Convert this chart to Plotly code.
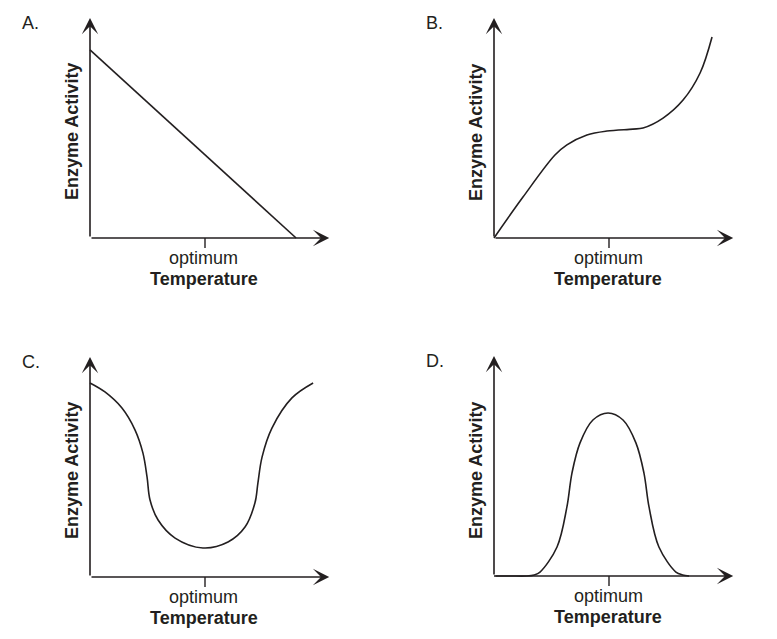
import plotly.graph_objects as go

W, H = 777, 639
INK = "#231f20"
FONT = "Liberation Sans, Arial, sans-serif"

# curve points (x: temperature units, optimum at 5; y: activity units)
a_x = [0.0, 8.96]
a_y = [8.55, 0.0]

b_x = [0.0, 1.26, 2.65, 3.17, 4.04, 4.91, 6.04, 6.48, 7.35, 8.22, 8.96, 9.48]
b_y = [0.0, 1.86, 3.77, 4.23, 4.68, 4.86, 4.95, 5.0, 5.45, 6.27, 7.5, 9.14]

c_x = [0.0, 0.65, 1.39, 1.96, 2.3, 2.48, 2.61, 2.96, 3.7, 4.91, 6.0, 6.74, 7.17, 7.3, 7.48, 7.91, 8.78, 9.7]
c_y = [8.82, 8.41, 7.68, 6.68, 5.64, 4.55, 3.5, 2.59, 1.77, 1.32, 1.59, 2.27, 3.36, 4.27, 5.45, 6.77, 8.14, 8.82]

d_x = [0.0, 0.7, 1.43, 1.75, 2.0, 2.74, 3.17, 3.39, 3.74, 4.3, 4.96, 5.61, 6.17, 6.52, 6.74, 7.17, 7.91, 8.2, 8.48]
d_y = [0.0, 0.0, 0.0, 0.05, 0.18, 1.32, 3.14, 4.68, 6.05, 7.09, 7.41, 7.09, 6.05, 4.68, 3.14, 1.32, 0.18, 0.05, 0.0]

letters = ["A.", "B.", "C.", "D."]
optimum = 5.0
x_end, y_end = 10.4, 10.0

curves = [(a_x, a_y, "linear"), (b_x, b_y, "spline"), (c_x, c_y, "spline"), (d_x, d_y, "spline")]

# pixel origin of each panel and pixel size of one unit
origins = [(90, 238), (494, 238), (90, 577), (494, 576)]
UX, UY = 23.0, 22.0
XR = [-0.8, 10.6]
YR = [-0.8, 10.2]

fig = go.Figure()
layout = {}
annotations = []
shapes = []


def px(x):
    return x / W


def py(y):
    return 1 - y / H


for i, ((cx, cy, shape), (ox, oy)) in enumerate(zip(curves, origins)):
    n = "" if i == 0 else str(i + 1)
    xa, ya = "x" + n, "y" + n
    fig.add_trace(go.Scatter(x=cx, y=cy, mode="lines", xaxis=xa, yaxis=ya,
                             line=dict(color=INK, width=1.6, shape=shape, smoothing=1.0),
                             showlegend=False, hoverinfo="skip"))
    xdom = [px(ox + XR[0] * UX), px(ox + XR[1] * UX)]
    ydom = [py(oy - YR[0] * UY), py(oy - YR[1] * UY)]
    layout["xaxis" + n] = dict(domain=xdom, range=XR, visible=False, anchor=ya, fixedrange=True)
    layout["yaxis" + n] = dict(domain=ydom, range=YR, visible=False, anchor=xa, fixedrange=True)

    # axes as arrows
    for (hx, hy) in [(x_end, 0), (0, y_end)]:
        annotations.append(dict(x=hx, y=hy, ax=0, ay=0, xref=xa, yref=ya, axref=xa, ayref=ya,
                                text="", showarrow=True, arrowhead=3, arrowsize=1.7,
                                arrowwidth=1.6, arrowcolor=INK, standoff=0, startstandoff=0))
    # optimum tick
    shapes.append(dict(type="line", xref=xa, yref=ya, x0=optimum, x1=optimum, y0=0, y1=-0.45,
                       line=dict(color=INK, width=1.4)))

    tx = ox + optimum * UX - 1
    annotations.append(dict(x=px(tx), y=py(oy + 20), xref="paper", yref="paper", text="optimum",
                            showarrow=False, xanchor="center", yanchor="middle",
                            font=dict(family=FONT, size=18, color=INK)))
    annotations.append(dict(x=px(tx), y=py(oy + 41), xref="paper", yref="paper", text="<b>Temperature</b>",
                            showarrow=False, xanchor="center", yanchor="middle",
                            font=dict(family=FONT, size=18, color=INK)))
    annotations.append(dict(x=px(ox - 18), y=py(oy - 106), xref="paper", yref="paper",
                            text="<b>Enzyme Activity</b>", textangle=-90, showarrow=False,
                            xanchor="center", yanchor="middle",
                            font=dict(family=FONT, size=18, color=INK)))
    annotations.append(dict(x=px(ox - 70), y=py(oy - 215), xref="paper", yref="paper",
                            text=letters[i], showarrow=False, xanchor="left", yanchor="middle",
                            font=dict(family=FONT, size=18, color=INK)))

fig.update_layout(width=W, height=H, margin=dict(l=0, r=0, t=0, b=0),
                  paper_bgcolor="white", plot_bgcolor="white",
                  annotations=annotations, shapes=shapes, **layout)

fig.write_html("out.html", config={"displayModeBar": False},
               post_script="document.body.style.margin='0';")
